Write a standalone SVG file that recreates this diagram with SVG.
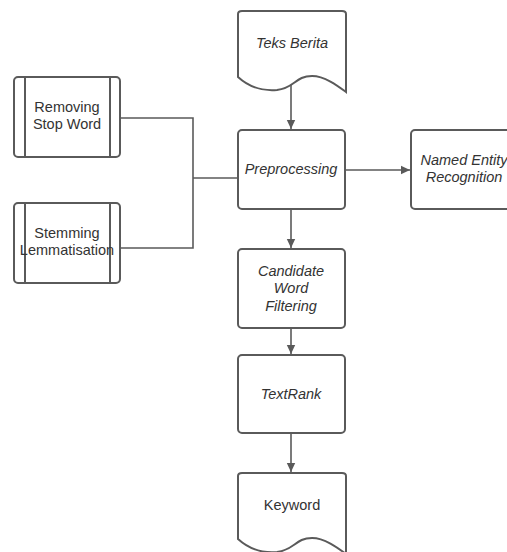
<svg xmlns="http://www.w3.org/2000/svg" width="507" height="552" viewBox="0 0 507 552">
<defs>
<style>
.s{fill:#fff;stroke:#5a5a5a;stroke-width:2}
.l{fill:none;stroke:#5a5a5a;stroke-width:1.6}
.t{font-family:"Liberation Sans",Arial,sans-serif;font-size:14.5px;fill:#333;text-anchor:middle}
.i{font-style:italic}
</style>
<marker id="a" markerWidth="10" markerHeight="10" refX="9" refY="5" orient="auto" markerUnits="userSpaceOnUse">
<path d="M0,0.8 L9,5 L0,9.2 Z" fill="#5a5a5a"/>
</marker>
</defs>
<rect width="507" height="552" fill="#fff"/>
<g id="connectors">
<path class="l" d="M291,84 V129" marker-end="url(#a)"/>
<path class="l" d="M345,170 H410" marker-end="url(#a)"/>
<path class="l" d="M120,118 H193 V248 H120"/>
<path class="l" d="M193,178 H238"/>
<path class="l" d="M291,209 V248" marker-end="url(#a)"/>
<path class="l" d="M291,328 V354" marker-end="url(#a)"/>
<path class="l" d="M291,433 V472" marker-end="url(#a)"/>
</g>
<g id="teks-berita">
<path class="s" d="M238,14 Q238,11 242,11 H342 Q346,11 346,14 V92 C338,86 325,76 312,76 C295,76 295,88 277,90 C265,91 250,88 238,77 Z"/>
<text class="t i" x="292" y="48">Teks Berita</text>
</g>
<g id="preprocessing">
<rect class="s" x="238" y="130" width="107" height="79" rx="4"/>
<text class="t i" x="291" y="174">Preprocessing</text>
</g>
<g id="ner">
<rect class="s" x="411" y="130" width="107" height="79" rx="4"/>
<text class="t i" x="464" y="165">Named Entity</text>
<text class="t i" x="464" y="182">Recognition</text>
</g>
<g id="removing-stop-word">
<rect class="s" x="14" y="77" width="106" height="80" rx="4"/>
<path class="l" d="M25,77 V157 M110,77 V157" style="stroke-width:2"/>
<text class="t" x="67" y="112">Removing</text>
<text class="t" x="67" y="129">Stop Word</text>
</g>
<g id="stemming">
<rect class="s" x="14" y="203" width="106" height="80" rx="4"/>
<path class="l" d="M25,203 V283 M110,203 V283" style="stroke-width:2"/>
<text class="t" x="67" y="238">Stemming</text>
<text class="t" x="67" y="255">Lemmatisation</text>
</g>
<g id="candidate-word-filtering">
<rect class="s" x="238" y="249" width="107" height="79" rx="4"/>
<text class="t i" x="291" y="276">Candidate</text>
<text class="t i" x="291" y="293">Word</text>
<text class="t i" x="291" y="311">Filtering</text>
</g>
<g id="textrank">
<rect class="s" x="238" y="355" width="107" height="78" rx="4"/>
<text class="t i" x="291" y="399">TextRank</text>
</g>
<g id="keyword">
<path class="s" d="M238,476 Q238,473 242,473 H342 Q346,473 346,476 V554 C338,548 325,538 312,538 C295,538 295,550 277,552 C265,553 250,550 238,539 Z"/>
<text class="t" x="292" y="510">Keyword</text>
</g>
</svg>
